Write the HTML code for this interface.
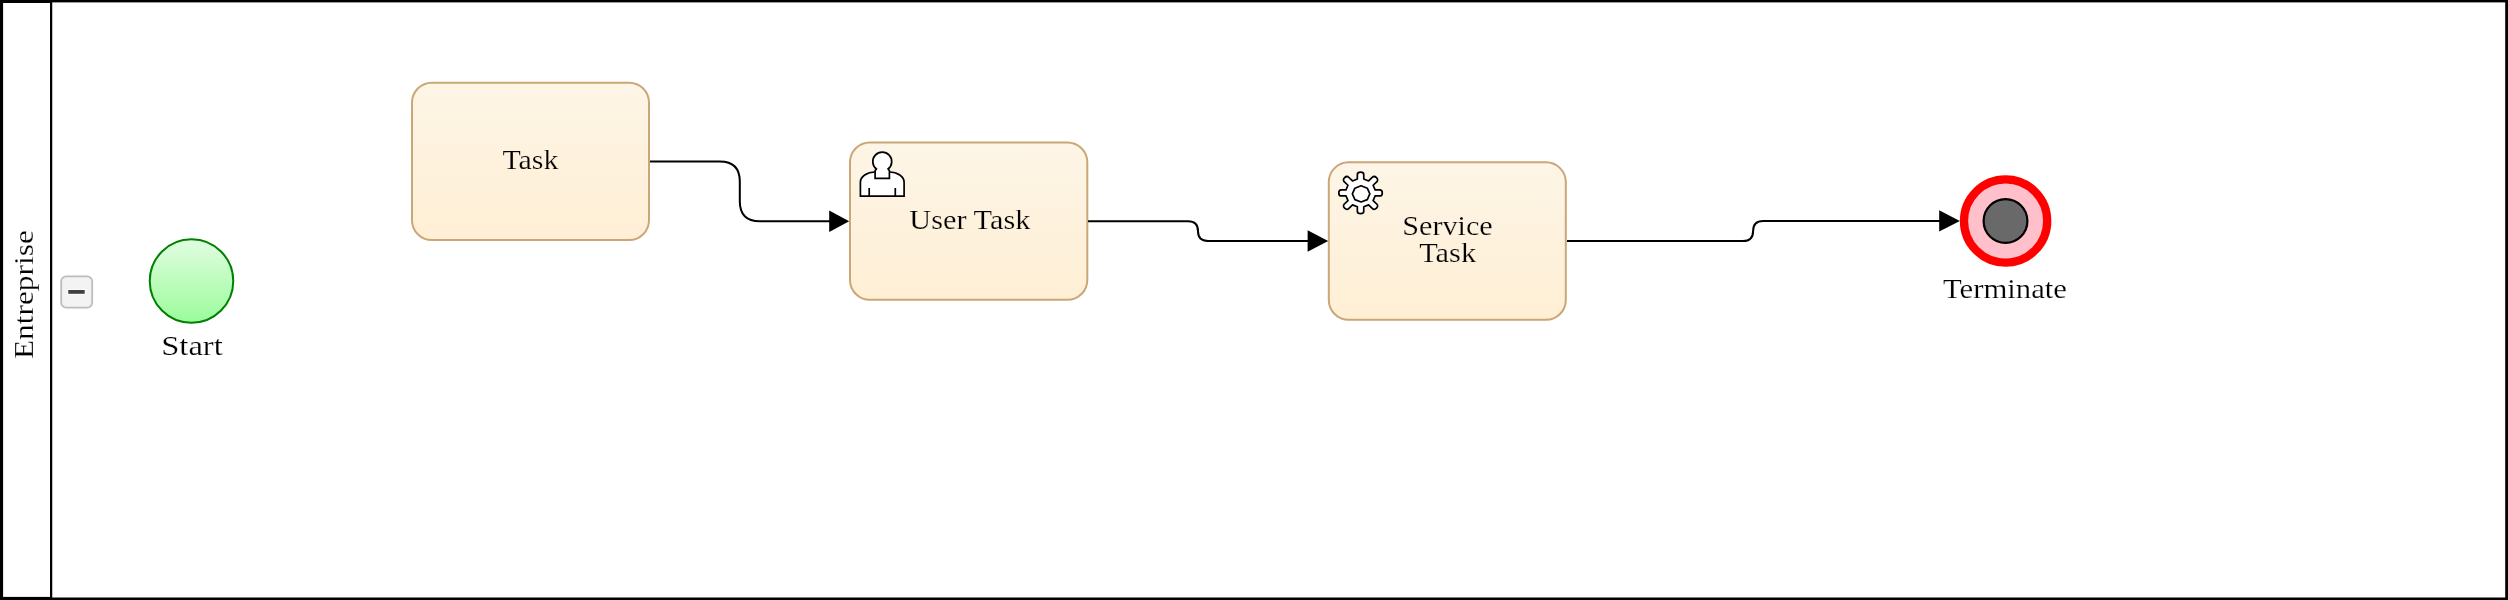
<!DOCTYPE html>
<html>
<head>
<meta charset="utf-8">
<style>
html,body{margin:0;padding:0;background:#fff;width:2508px;height:600px;overflow:hidden;}
svg{display:block;position:absolute;left:0;top:0;will-change:transform;}
text{font-family:"Liberation Serif",serif;fill:#000;}
</style>
</head>
<body>
<svg width="2508" height="600" viewBox="0 0 2508 600">
<defs>
<linearGradient id="gTask" x1="0" y1="0" x2="0" y2="1">
<stop offset="0" stop-color="#fdf5e6"/><stop offset="1" stop-color="#ffefd5"/>
</linearGradient>
<linearGradient id="gStart" x1="0" y1="0" x2="0" y2="1">
<stop offset="0" stop-color="#e1fde1"/><stop offset="1" stop-color="#9bfb9b"/>
</linearGradient>
</defs>
<!-- pool -->
<rect x="0" y="0" width="2508" height="600" fill="#000"/>
<rect x="3.1" y="3" width="46.9" height="593.9" fill="#fff"/>
<rect x="52.25" y="2.4" width="2452.95" height="595.1" fill="#fff"/>

<!-- pool label -->
<text transform="translate(33,294.6) rotate(-90)" x="0" y="0" font-size="26.5" text-anchor="middle" textLength="129" stroke="#fff" stroke-width="0.2" lengthAdjust="spacingAndGlyphs">Entreprise</text>

<!-- collapse button -->
<rect x="61.2" y="276.3" width="31" height="31.3" rx="5" ry="5" fill="#f3f3f3" stroke="#bcbcbc" stroke-width="1.75"/>
<rect x="67.6" y="289.3" width="17.75" height="5.2" fill="#fff"/>
<rect x="68.25" y="290" width="16.45" height="3.8" fill="#404040"/>

<!-- start event -->
<circle cx="191.5" cy="281" r="41.75" fill="url(#gStart)" stroke="#008000" stroke-width="2"/>
<text x="192.0" y="354.8" font-size="26.5" text-anchor="middle" textLength="61.5" stroke="#fff" stroke-width="0.2" lengthAdjust="spacingAndGlyphs">Start</text>

<!-- task -->
<rect x="412" y="82.7" width="237" height="157.3" rx="19.8" ry="19.8" fill="url(#gTask)" stroke="#cba677" stroke-width="2"/>
<text x="530.45" y="168.8" font-size="26.5" text-anchor="middle" textLength="56" stroke="#fef2dd" stroke-width="0.2" lengthAdjust="spacingAndGlyphs">Task</text>

<!-- user task -->
<rect x="850" y="142.5" width="237.3" height="157.3" rx="19.8" ry="19.8" fill="url(#gTask)" stroke="#cba677" stroke-width="2"/>
<text x="969.85" y="228.7" font-size="26.5" text-anchor="middle" textLength="121" stroke="#fef2dd" stroke-width="0.2" lengthAdjust="spacingAndGlyphs">User Task</text>
<g fill="#fff" stroke="#000" stroke-width="1.7" stroke-linejoin="miter">
<path d="M875.1,172.0 A14.7,10.2 0 0 0 860.4,182.2 L860.4,196.2 L904.1,196.2 L904.1,182.2 A14.7,10.2 0 0 0 889.4,172.0 Z"/>
<path d="M876.4,169.0 A9.45,9.45 0 1 1 888.1,169.0 L889.4,170.6 L889.4,178.4 L875.1,178.4 L875.1,170.6 Z"/>
<path d="M869.2,187.9 L869.2,196.2 M895.3,187.9 L895.3,196.2" fill="none"/>
</g>

<!-- service task -->
<rect x="1328.8" y="162.3" width="237" height="157.5" rx="19.8" ry="19.8" fill="url(#gTask)" stroke="#cba677" stroke-width="2"/>
<text x="1447.5" y="234.6" font-size="26.5" text-anchor="middle" textLength="90.5" stroke="#fef2dd" stroke-width="0.2" lengthAdjust="spacingAndGlyphs">Service</text>
<text x="1447.65" y="262.2" font-size="26.5" text-anchor="middle" textLength="57" stroke="#fef2dd" stroke-width="0.2" lengthAdjust="spacingAndGlyphs">Task</text>
<path fill="#fff" stroke="#000" stroke-width="1.7" stroke-linejoin="round" d="M1357.35,179.03 L1357.35,174.60 C1357.35,173.27 1358.78,172.20 1360.55,172.20 C1362.32,172.20 1363.75,173.27 1363.75,174.60 L1363.75,179.03 L1368.58,180.94 L1372.47,177.24 C1373.45,176.30 1375.26,176.51 1376.51,177.70 C1377.76,178.89 1377.98,180.61 1377.00,181.55 L1373.11,185.25 L1375.11,189.85 L1379.76,189.85 C1381.16,189.85 1382.29,191.22 1382.29,192.90 C1382.29,194.58 1381.16,195.95 1379.76,195.95 L1375.11,195.95 L1373.11,200.55 L1377.00,204.25 C1377.98,205.19 1377.76,206.91 1376.51,208.10 C1375.26,209.29 1373.45,209.50 1372.47,208.56 L1368.58,204.86 L1363.75,206.77 L1363.75,211.20 C1363.75,212.53 1362.32,213.60 1360.55,213.60 C1358.78,213.60 1357.35,212.53 1357.35,211.20 L1357.35,206.77 L1352.52,204.86 L1348.63,208.56 C1347.65,209.50 1345.84,209.29 1344.59,208.10 C1343.34,206.91 1343.12,205.19 1344.10,204.25 L1347.99,200.55 L1345.99,195.95 L1341.34,195.95 C1339.94,195.95 1338.81,194.58 1338.81,192.90 C1338.81,191.22 1339.94,189.85 1341.34,189.85 L1345.99,189.85 L1347.99,185.25 L1344.10,181.55 C1343.12,180.61 1343.34,178.89 1344.59,177.70 C1345.84,176.51 1347.65,176.30 1348.63,177.24 L1352.52,180.94 Z"/>
<path fill="#fff" stroke="#000" stroke-width="1.7" stroke-linejoin="round" d="M1369.85,193.90 L1367.29,199.63 L1361.10,202.00 L1354.91,199.63 L1352.35,193.90 L1354.91,188.17 L1361.10,185.80 L1367.29,188.17 Z"/>

<!-- end event -->
<circle cx="2005.6" cy="221" r="41.6" fill="#ffc0cb" stroke="#ff0000" stroke-width="8.3"/>
<circle cx="2005.5" cy="221" r="21.9" fill="#696969" stroke="#000" stroke-width="2.2"/>
<text x="2005" y="298" font-size="26.5" text-anchor="middle" textLength="124" stroke="#fff" stroke-width="0.2" lengthAdjust="spacingAndGlyphs">Terminate</text>

<!-- edges -->
<g fill="none" stroke="#000" stroke-width="2">
<path d="M650,161.5 L719.8,161.5 Q739.8,161.5 739.8,181.5 L739.8,201.2 Q739.8,221.2 759.8,221.2 L830,221.2"/>
<path d="M1088,221.2 L1188.2,221.2 Q1198,221.2 1198,231.1 Q1198,241 1207.8,241 L1309,241"/>
<path d="M1567,241.1 L1743,241.1 Q1753.1,241.1 1753.1,231 Q1753.1,220.9 1763.2,220.9 L1940,220.9"/>
</g>
<g fill="#000" stroke="none">
<path d="M829.2,210.5 L849.2,221.2 L829.2,231.9 Z"/>
<path d="M1307.6,230.3 L1328.2,241 L1307.6,251.7 Z"/>
<path d="M1939.2,210.2 L1959.9,220.9 L1939.2,231.6 Z"/>
</g>
</svg>
</body>
</html>
